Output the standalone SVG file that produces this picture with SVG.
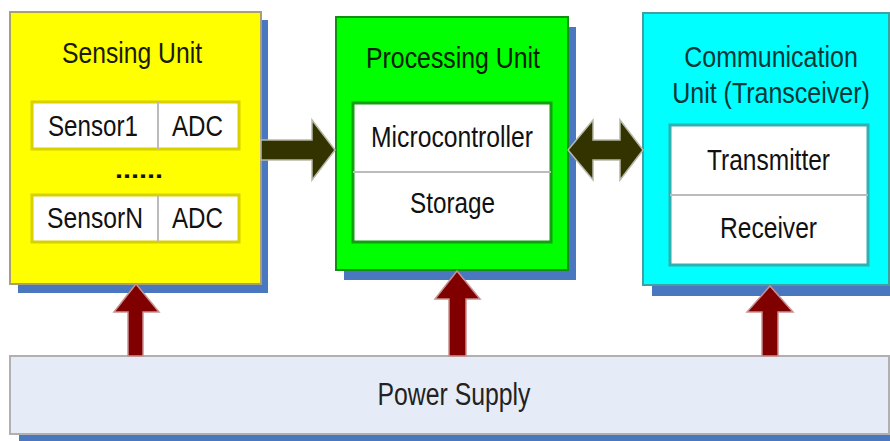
<svg xmlns="http://www.w3.org/2000/svg" width="890" height="441" viewBox="0 0 890 441">
<style>
text{font-family:"Liberation Sans",Arial,sans-serif;font-size:29px;fill:#111;}
.shadow{fill:#4a78c0;}
.cell{fill:#fff;}
.dark{fill:#333300;stroke:#b8b8a8;stroke-width:1.5;}
.red{fill:#800000;stroke:#c89090;stroke-width:1.5;}
.ct{fill:#003838;font-size:25px;}
</style>
<rect width="890" height="441" fill="#fff"/>
<g id="sensing">
<rect class="shadow" x="18" y="20" width="250" height="273"/>
<rect x="10" y="12" width="251" height="272" fill="#ffff00" stroke="#a8a070" stroke-width="2"/>
<text x="132" y="63" text-anchor="middle" textLength="140" lengthAdjust="spacingAndGlyphs" style="fill:#1a1a00;font-size:30px">Sensing Unit</text>
<rect class="cell" x="32" y="102" width="207" height="47" stroke="#d8d000" stroke-width="3"/>
<line x1="158" y1="102" x2="158" y2="149" stroke="#bbb" stroke-width="2"/>
<text x="48" y="136" textLength="90" lengthAdjust="spacingAndGlyphs">Sensor1</text>
<text x="172" y="136" textLength="51" lengthAdjust="spacingAndGlyphs">ADC</text>
<text x="115" y="178" textLength="48" lengthAdjust="spacingAndGlyphs" style="font-size:24px;font-weight:bold">......</text>
<rect class="cell" x="32" y="195" width="207" height="47" stroke="#d8d000" stroke-width="3"/>
<line x1="158" y1="195" x2="158" y2="242" stroke="#bbb" stroke-width="2"/>
<text x="47" y="228" textLength="96" lengthAdjust="spacingAndGlyphs">SensorN</text>
<text x="172" y="228" textLength="51" lengthAdjust="spacingAndGlyphs">ADC</text>
</g>
<g id="processing">
<rect class="shadow" x="344" y="27" width="232" height="253"/>
<rect x="336" y="17" width="232" height="253" fill="#00ff00" stroke="#109010" stroke-width="2"/>
<text x="453" y="68" text-anchor="middle" textLength="174" lengthAdjust="spacingAndGlyphs" style="fill:#002000;font-size:30px">Processing Unit</text>
<rect class="cell" x="353" y="103" width="198" height="139" stroke="#10a010" stroke-width="3"/>
<line x1="353" y1="172" x2="551" y2="172" stroke="#bbb" stroke-width="2"/>
<text x="371" y="147" textLength="162" lengthAdjust="spacingAndGlyphs">Microcontroller</text>
<text x="410" y="213" textLength="85" lengthAdjust="spacingAndGlyphs">Storage</text>
</g>
<g id="communication">
<rect class="shadow" x="652" y="24" width="238" height="272"/>
<rect x="643" y="13" width="246" height="272" fill="#00ffff" stroke="#40a0a0" stroke-width="2"/>
<text class="ct" transform="translate(771,67) scale(1,1.18)" text-anchor="middle">Communication</text>
<text class="ct" transform="translate(771,103) scale(1,1.18)" text-anchor="middle">Unit (Transceiver)</text>
<rect class="cell" x="670" y="125" width="198" height="140" stroke="#30b0b0" stroke-width="3"/>
<line x1="670" y1="195" x2="868" y2="195" stroke="#bbb" stroke-width="2"/>
<text x="707" y="170" textLength="123" lengthAdjust="spacingAndGlyphs">Transmitter</text>
<text x="720" y="238" textLength="97" lengthAdjust="spacingAndGlyphs">Receiver</text>
</g>
<g id="power">
<rect class="shadow" x="19" y="434" width="871" height="7"/>
<rect x="10" y="356" width="879" height="78" fill="#e6ecf7" stroke="#b0b0b0" stroke-width="2"/>
<text x="454" y="405" text-anchor="middle" textLength="153" lengthAdjust="spacingAndGlyphs" style="fill:#222;font-size:31px">Power Supply</text>
</g>
<g id="connectors">
<polygon class="dark" points="261,140 312,140 312,120 335,150 312,180 312,160 261,160"/>
<polygon class="dark" points="568,150 593,120 593,140 620,140 620,120 643,150 620,180 620,160 593,160 593,180"/>
<polygon class="red" points="128,356 128,312 114,312 136,284 159,312 143,312 143,356"/>
<polygon class="red" points="449,356 449,299 435,299 457,271 480,299 466,299 466,356"/>
<polygon class="red" points="762,356 762,312 747,312 770,286 793,312 778,312 778,356"/>
</g>
</svg>
